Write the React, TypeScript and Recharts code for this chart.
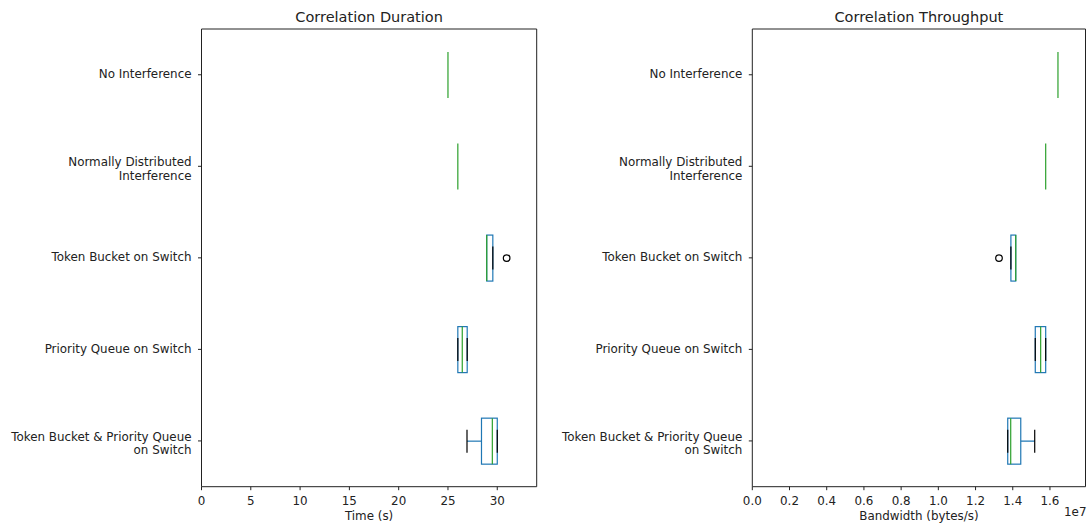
import React from "react";
import { Bar, ComposedChart, ReferenceArea, XAxis, YAxis } from "recharts";

const FONT = "DejaVu Sans";
const BLUE = "#1f77b4";
const GREEN = "#2ca02c";
const INK = "#222";
const LW = 1.2;
const TICK_FS = 11.9;

const categories = [
  "No Interference",
  "Normally Distributed\nInterference",
  "Token Bucket on Switch",
  "Priority Queue on Switch",
  "Token Bucket & Priority Queue\non Switch",
];

// each row: [lower whisker, q1, median, q3, upper whisker]
const durationStats = [
  [25.0, 25.0, 25.0, 25.0, 25.0],
  [26.0, 26.0, 26.0, 26.0, 26.0],
  [28.93, 28.93, 28.93, 29.55, 29.55],
  [26.0, 26.0, 26.45, 26.95, 26.95],
  [26.93, 28.4, 29.5, 30.0, 30.0],
];
const durationFliers = [[], [], [30.95], [], []];

const throughputStats = [
  [1.643e7, 1.643e7, 1.643e7, 1.643e7, 1.643e7],
  [1.577e7, 1.577e7, 1.577e7, 1.577e7, 1.577e7],
  [1.39e7, 1.39e7, 1.416e7, 1.416e7, 1.416e7],
  [1.521e7, 1.521e7, 1.55e7, 1.577e7, 1.577e7],
  [1.373e7, 1.373e7, 1.389e7, 1.443e7, 1.518e7],
];
const throughputFliers = [[], [], [1.326e7], [], []];

const durationTicks = [0, 5, 10, 15, 20, 25, 30];
const throughputTicks = [0, 0.2e7, 0.4e7, 0.6e7, 0.8e7, 1.0e7, 1.2e7, 1.4e7, 1.6e7];

const buildRows = (stats: number[][], fliers: number[][]) =>
  categories.map((name, i) => {
    const [lo, q1, med, q3, hi] = stats[i];
    return { name, lo, q1, med, q3, hi, fliers: fliers[i], top: Math.max(hi, ...fliers[i]) };
  });

const durationRows = buildRows(durationStats, durationFliers);
const throughputRows = buildRows(throughputStats, throughputFliers);

// The bar spans 0..top, so its pixel width gives the scale for every statistic.
// Pieces that sit exactly under the median line are skipped so it stays clean green.
const BoxShape = (props: any) => {
  const { x, y, width, height, payload } = props;
  const k = width / payload.top;
  const px = (v: number) => x + v * k;
  const cy = y + height / 2;
  const half = height * 0.25;
  const cap = height * 0.125;
  const { lo, q1, med, q3, hi } = payload;
  return (
    <g>
      {q3 > q1 && (
        <rect
          x={px(q1)}
          y={cy - half}
          width={px(q3) - px(q1)}
          height={half * 2}
          fill="none"
          stroke={BLUE}
          strokeWidth={LW}
        />
      )}
      {q1 > lo && <line x1={px(lo)} x2={px(q1)} y1={cy} y2={cy} stroke={BLUE} strokeWidth={LW} />}
      {hi > q3 && <line x1={px(q3)} x2={px(hi)} y1={cy} y2={cy} stroke={BLUE} strokeWidth={LW} />}
      {lo !== med && (
        <line x1={px(lo)} x2={px(lo)} y1={cy - cap} y2={cy + cap} stroke="#000" strokeWidth={LW} />
      )}
      {hi !== med && (
        <line x1={px(hi)} x2={px(hi)} y1={cy - cap} y2={cy + cap} stroke="#000" strokeWidth={LW} />
      )}
      <line x1={px(med)} x2={px(med)} y1={cy - half} y2={cy + half} stroke={GREEN} strokeWidth={LW} />
      {payload.fliers.map((f: number, i: number) => (
        <circle key={i} cx={px(f)} cy={cy} r={3.3} fill="none" stroke="#000" strokeWidth={LW} />
      ))}
    </g>
  );
};

const CategoryTick = (props: any) => {
  const { x, y, payload } = props;
  const lines = String(payload.value).split("\n");
  const lh = 13.3;
  const y0 = lines.length > 1 ? y - ((lines.length - 1) * lh) / 2 + 3.2 : y;
  return (
    <text textAnchor="end" fontFamily={FONT} fontSize={TICK_FS} fill={INK}>
      {lines.map((line, i) => (
        <tspan key={i} x={x} y={y0 + i * lh} dy="0.3em">
          {line}
        </tspan>
      ))}
    </text>
  );
};

const titleLabel = (title: string) => (props: any) => {
  const { x, y, width } = props.viewBox;
  return (
    <text x={x + width / 2} y={y - 7.3} textAnchor="middle" fontFamily={FONT} fontSize={14.5} fill={INK}>
      {title}
    </text>
  );
};

const axisLabel = (text: string, exponent?: string) => (props: any) => {
  const { x, y, width } = props.viewBox;
  return (
    <g fontFamily={FONT} fontSize={TICK_FS} fill={INK}>
      <text x={x + width / 2} y={y + 33} textAnchor="middle">
        {text}
      </text>
      {exponent && (
        <text x={x + width + 1} y={y + 29.5} textAnchor="end">
          {exponent}
        </text>
      )}
    </g>
  );
};

interface PanelProps {
  rows: any[];
  title: string;
  xLabel: string;
  exponent?: string;
  domainMax: number;
  ticks: number[];
  tickFmt: (v: number) => string;
  width: number;
  yWidth: number;
  right: number;
}

const Panel: React.FC<PanelProps> = ({ rows, title, xLabel, exponent, domainMax, ticks, tickFmt, width, yWidth, right }) => (
  <ComposedChart
    width={width}
    height={526}
    data={rows}
    layout="vertical"
    margin={{ top: 29, right, bottom: 0, left: 0 }}
    barCategoryGap={0}
    barGap={0}
  >
    <XAxis
      type="number"
      domain={[0, domainMax]}
      ticks={ticks}
      tickFormatter={tickFmt}
      allowDataOverflow
      height={39.3}
      tickSize={3.5}
      tickMargin={6}
      axisLine={false}
      tickLine={{ stroke: INK }}
      tick={{ fontSize: TICK_FS, fill: INK, fontFamily: FONT }}
      label={axisLabel(xLabel, exponent)}
    />
    <YAxis
      type="category"
      dataKey="name"
      width={yWidth}
      tickSize={3.5}
      tickMargin={6.5}
      axisLine={false}
      tickLine={{ stroke: INK }}
      tick={<CategoryTick />}
    />
    <ReferenceArea
      x1={0}
      x2={domainMax}
      fill="none"
      fillOpacity={0}
      stroke={INK}
      strokeWidth={1}
      ifOverflow="visible"
      label={titleLabel(title)}
    />
    <Bar dataKey="top" shape={BoxShape} isAnimationActive={false} />
  </ComposedChart>
);

export default function App() {
  return (
    <div style={{ position: "absolute", left: 0, top: 0, width: 1089, height: 526, background: "#fff" }}>
      <div style={{ position: "absolute", left: 0, top: 0 }}>
        <Panel
          rows={durationRows}
          title="Correlation Duration"
          xLabel="Time (s)"
          domainMax={34}
          ticks={durationTicks}
          tickFmt={(v) => String(v)}
          width={545}
          yWidth={201.5}
          right={8.3}
        />
      </div>
      <div style={{ position: "absolute", left: 545, top: 0 }}>
        <Panel
          rows={throughputRows}
          title="Correlation Throughput"
          xLabel="Bandwidth (bytes/s)"
          exponent="1e7"
          domainMax={1.791e7}
          ticks={throughputTicks}
          tickFmt={(v) => (v / 1e7).toFixed(1)}
          width={544}
          yWidth={207.3}
          right={3.5}
        />
      </div>
    </div>
  );
}
